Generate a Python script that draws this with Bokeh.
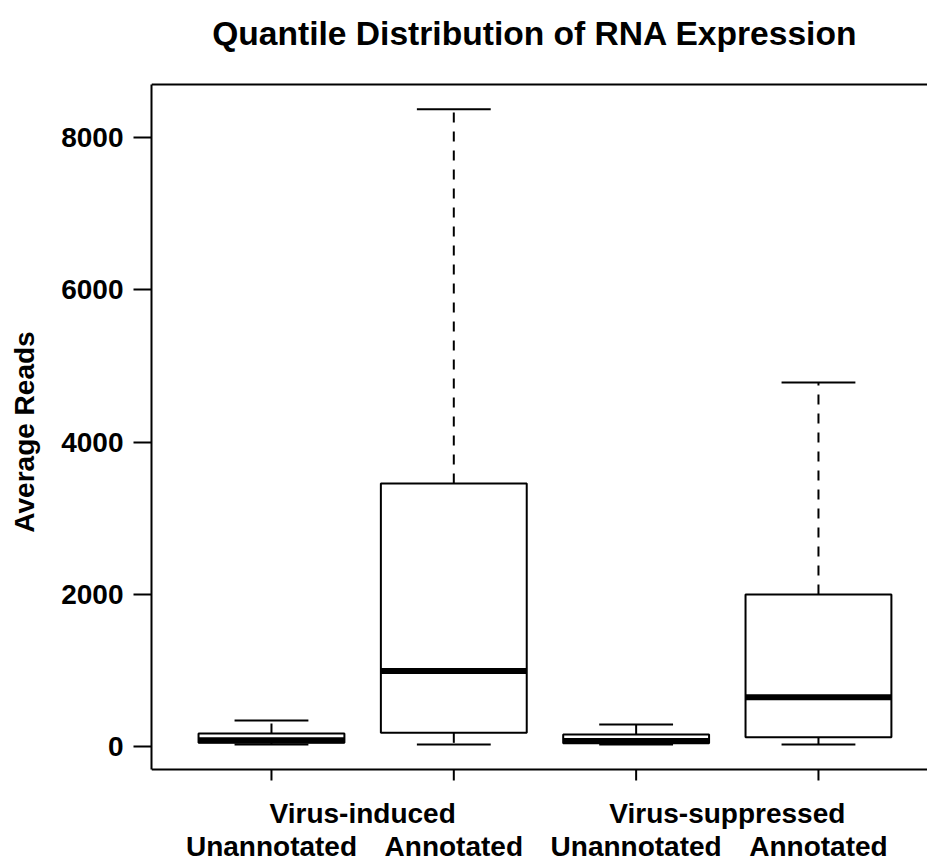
import math
from bokeh.plotting import figure
from bokeh.models import Range1d, FixedTicker, LinearAxis, Span, ColumnDataSource
from bokeh.core.properties import value
from bokeh.embed import file_html
from bokeh.resources import INLINE

title_text = "Quantile Distribution of RNA Expression"
y_label = "Average Reads"
groups = ["Virus-induced", "Virus-suppressed"]
group_centers = [1.5, 3.5]
subgroups = ["Unannotated", "Annotated", "Unannotated", "Annotated"]
positions = [1, 2, 3, 4]
lower = [22, 22, 22, 22]
q1 = [45, 176, 40, 118]
median = [80, 989, 70, 644]
q3 = [167, 3454, 154, 1995]
upper = [338, 8374, 285, 4783]
y_ticks = [0, 2000, 4000, 6000, 8000]

FONT = "Liberation Sans"
BOX_W = 0.8
CAP_W = 0.405
# plotting box (data coordinates of the drawn frame)
BX0, BX1 = 0.342, 4.598
BY0, BY1 = -306, 8701
# visible data window (room above/below the box for title and category labels)
VY0, VY1 = -1542, 9805
TITLE_X, TITLE_Y = 2.445, 9370
GROUP_Y = -885
SUB_Y = -1319

p = figure(width=927, height=863, output_backend="svg", toolbar_location=None,
           x_range=Range1d(BX0, BX1), y_range=Range1d(VY0, VY1),
           min_border_left=151, min_border_right=0, min_border_top=0,
           min_border_bottom=0, x_axis_location=None, y_axis_location=None)
p.outline_line_color = None
p.xgrid.visible = False
p.ygrid.visible = False
p.background_fill_color = "white"
p.border_fill_color = "white"

src = ColumnDataSource(dict(
    x=positions, lower=lower, q1=q1, median=median, q3=q3, upper=upper,
    cap_l=[x - CAP_W / 2 for x in positions], cap_r=[x + CAP_W / 2 for x in positions],
    base=[BY0] * len(positions),
))

# whiskers (dashed)
p.segment(x0="x", y0="q3", x1="x", y1="upper", source=src,
          line_color="black", line_width=2, line_dash="10 9")
p.segment(x0="x", y0="q1", x1="x", y1="lower", source=src,
          line_color="black", line_width=2, line_dash="10 9")
# caps
p.segment(x0="cap_l", y0="upper", x1="cap_r", y1="upper", source=src,
          line_color="black", line_width=2)
p.segment(x0="cap_l", y0="lower", x1="cap_r", y1="lower", source=src,
          line_color="black", line_width=2)
# boxes
p.vbar(x="x", width=BOX_W, bottom="q1", top="q3", source=src,
       fill_color="white", line_color="black", line_width=2)
# medians
p.rect(x="x", y="median", width=BOX_W, height=6, height_units="screen", source=src,
       fill_color="black", line_color=None)

# box frame: top and bottom lines (left line is the y axis)
p.add_layout(Span(location=BY1, dimension="width", line_color="black", line_width=2))
p.add_layout(Span(location=BY0, dimension="width", line_color="black", line_width=2))

# x tick marks below the box
p.ray(x="x", y="base", length=11, length_units="screen", angle=-math.pi / 2,
      source=src, line_color="black", line_width=2)

# x category labels
p.text(x=group_centers, y=[GROUP_Y] * len(groups), text=groups,
       text_align="center", text_baseline="alphabetic",
       text_font=value(FONT), text_font_style="bold", text_font_size="28px",
       text_color="black")
p.text(x=positions, y=[SUB_Y] * len(subgroups), text=subgroups,
       text_align="center", text_baseline="alphabetic",
       text_font=value(FONT), text_font_style="bold", text_font_size="28px",
       text_color="black")

# title
p.text(x=[TITLE_X], y=[TITLE_Y], text=[title_text],
       text_align="center", text_baseline="alphabetic",
       text_font=value(FONT), text_font_style="bold", text_font_size="33.6px",
       text_color="black")

# y axis
yax = LinearAxis(ticker=FixedTicker(ticks=y_ticks), axis_label=y_label, bounds=(BY0, BY1))
yax.major_tick_out = 18
yax.major_tick_in = 0
yax.minor_tick_line_color = None
yax.major_tick_line_width = 2
yax.axis_line_width = 2
yax.major_label_standoff = 10
yax.major_label_text_font = FONT
yax.major_label_text_font_style = "bold"
yax.major_label_text_font_size = "28px"
yax.major_label_text_color = "black"
yax.axis_label_text_font = FONT
yax.axis_label_text_font_style = "bold"
yax.axis_label_text_font_size = "28px"
yax.axis_label_text_color = "black"
yax.axis_label_standoff = 18
p.add_layout(yax, "left")

open("out.html", "w").write(file_html(p, INLINE))
